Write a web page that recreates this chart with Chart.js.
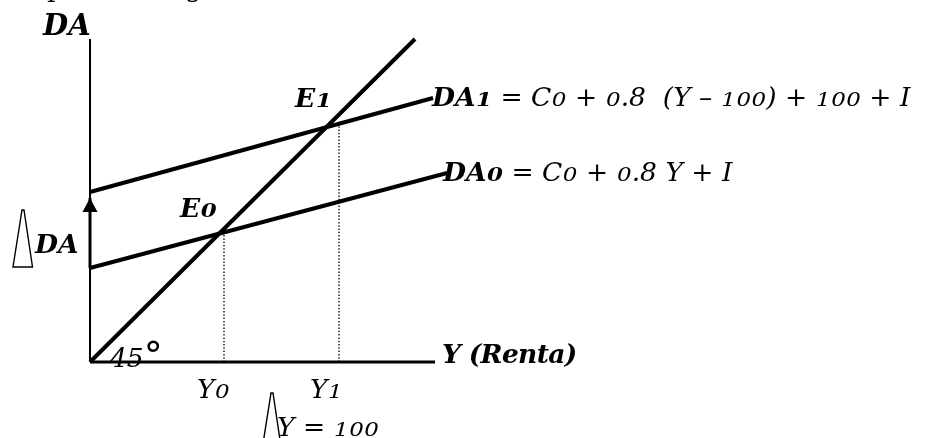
<!DOCTYPE html>
<html>
<head>
<meta charset="utf-8">
<script src="https://cdn.jsdelivr.net/npm/chart.js@4.4.1/dist/chart.umd.min.js"></script>
<style>
  html, body { margin: 0; padding: 0; background: #fff; }
</style>
</head>
<body>
<canvas id="cross" width="950" height="438"></canvas>
<script>
// ==============================
// Keynesian cross: DA0 -> DA1 after a +100 shift, 45° line DA = Y
// plotting units are 1:1 with screen px, origin at the axes corner
// ==============================

// 45° line (DA = Y)
const diagY  = [0, 325];
const diagDA = [0, 323];

// aggregate demand lines, start / end
const da0Y = [0, 357];
const da0  = [94, 189];
const da1Y = [0, 343];
const da1  = [170, 264];

// equilibria E0, E1
const eqY  = [134, 249];
const eqDA = [129, 237];

// axis extents
const axisTopDA = 323;
const axisEndY  = 345;

const FAMILY = '"DejaVu Serif", serif';
const SIZE = 26.5;

// ---------- text labels (left edge, baseline) ----------
const labels = [
  { x: -43, y: 365, parts: [["p", "normal", "normal"]] },
  { x: 95,  y: 365, parts: [["g", "normal", "normal"]] },
  { x: -47, y: 327, size: 29, parts: [["DA", "bold"]] },
  { x: 205, y: 255, parts: [["E1", "bold"]] },
  { x: 90,  y: 145, parts: [["E0", "bold"]] },
  { x: 342, y: 256, parts: [["DA1", "bold"], [" = C0 + 0.8  (Y \u2013 100) + 100 + I", "normal"]] },
  { x: 353, y: 181, parts: [["DA0", "bold"], [" = C0 + 0.8 Y + I", "normal"]] },
  { x: -55, y: 109, parts: [["DA", "bold"]], delta: -22 },
  { x: 20,  y: 0,   parts: [["45", "normal"], ["\u00b0", "normal"]] },
  { x: 352, y: -1,  track: -0.7, parts: [["Y (Renta)", "bold"]] },
  { x: 107, y: -36, parts: [["Y0", "normal"]] },
  { x: 220, y: -36, parts: [["Y1", "normal"]] },
  { x: 187, y: -74, parts: [["Y = 100", "normal"]], delta: -15 },
];

// old-style figures: 0 1 2 sit at x-height, 3 4 5 7 9 drop below the line
function drawRun(ctx, text, x, y, size, weight, style, track) {
  for (const ch of text) {
    let dy = 0;
    ctx.font = `${style} ${weight} ${size}px ${FAMILY}`;
    if ("012".includes(ch)) {
      ctx.font = `${style} ${weight} ${Math.round(size * 0.85)}px ${FAMILY}`;
      const w = ctx.measureText(ch).width;
      ctx.save();
      ctx.translate(x + 0.5, y);
      ctx.scale(1, 0.82);
      ctx.fillText(ch, 0, 0);
      ctx.restore();
      x += w + 0.5 + track;
      continue;
    }
    if ("34579".includes(ch)) dy = size * 0.2;
    if (ch === "\u00b0") {
      ctx.font = `${style} ${weight} ${Math.round(size * 1.45)}px ${FAMILY}`;
      dy = 6;
    }
    ctx.fillText(ch, x, y + dy);
    x += ctx.measureText(ch).width + track;
  }
  return x;
}

// tall outlined delta in front of a label
function drawDelta(ctx, x, base) {
  ctx.save();
  ctx.beginPath();
  ctx.moveTo(x, base + 14);
  ctx.lineTo(x + 9, base - 43);
  ctx.lineTo(x + 11, base - 43);
  ctx.lineTo(x + 19.5, base + 14);
  ctx.closePath();
  ctx.lineWidth = 1.4;
  ctx.strokeStyle = "#000";
  ctx.stroke();
  ctx.restore();
}

const labelPlugin = {
  id: "crossLabels",
  afterDatasetsDraw(chart) {
    const { ctx, scales } = chart;
    ctx.save();
    ctx.fillStyle = "#000";
    ctx.textBaseline = "alphabetic";
    for (const lb of labels) {
      let x = scales.x.getPixelForValue(lb.x);
      const y = scales.y.getPixelForValue(lb.y);
      if (lb.delta) drawDelta(ctx, x + lb.delta, y);
      for (const [txt, weight, style] of lb.parts) {
        x = drawRun(ctx, txt, x, y, lb.size || SIZE, weight, style || "italic", lb.track || 0);
      }
    }
    ctx.restore();
  }
};

// arrowhead on the shift arrow, drawn at its last point
const arrowPlugin = {
  id: "arrowHead",
  afterDatasetsDraw(chart) {
    const { ctx } = chart;
    chart.data.datasets.forEach((ds, i) => {
      if (!ds.arrow) return;
      const pts = chart.getDatasetMeta(i).data;
      const tip = pts[pts.length - 1];
      ctx.save();
      ctx.fillStyle = "#000";
      ctx.beginPath();
      ctx.moveTo(tip.x, tip.y);
      ctx.lineTo(tip.x - 7.5, tip.y + 14);
      ctx.lineTo(tip.x + 7.5, tip.y + 14);
      ctx.closePath();
      ctx.fill();
      ctx.restore();
    });
  }
};

const seg = (xs, ys) => xs.map((x, i) => ({ x, y: ys[i] }));

const line = (data, width, extra = {}) => Object.assign({
  data,
  showLine: true,
  borderColor: "#000",
  backgroundColor: "#000",
  borderWidth: width,
  pointRadius: 0,
  borderCapStyle: "butt",
  fill: false,
}, extra);

const datasets = [
  line(seg([0, 0], [0, axisTopDA]), 2),
  line(seg([0, axisEndY], [0, 0]), 3),
  line(seg(diagY, diagDA), 4),
  line(seg(da0Y, da0), 4),
  line(seg(da1Y, da1), 4),
  line(seg([eqY[0], eqY[0]], [0, eqDA[0]]), 1.3, { borderDash: [1.5, 1.8] }),
  line(seg([eqY[1], eqY[1]], [0, eqDA[1]]), 1.3, { borderDash: [1.5, 1.8] }),
  line(seg([0, 0], [da0[0], da1[0] - 6]), 3, { arrow: true }),
];

new Chart(document.getElementById("cross"), {
  type: "scatter",
  data: { datasets },
  options: {
    responsive: false,
    animation: false,
    layout: { padding: 0 },
    plugins: { legend: { display: false }, tooltip: { enabled: false } },
    scales: {
      x: { type: "linear", display: false, min: -90, max: 860 },
      y: { type: "linear", display: false, min: -76, max: 362 },
    },
  },
  plugins: [arrowPlugin, labelPlugin],
});
</script>
</body>
</html>
